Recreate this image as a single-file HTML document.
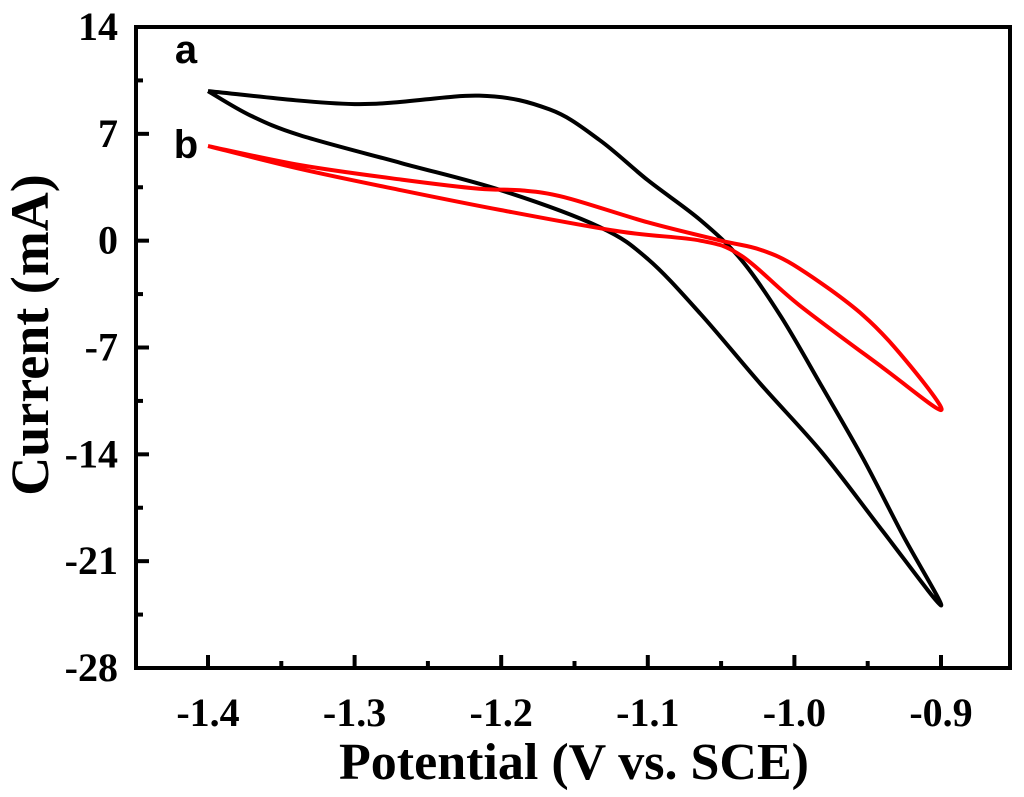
<!DOCTYPE html>
<html><head><meta charset="utf-8"><style>
body{margin:0;background:#fff;}
svg{display:block;}
text{font-family:"Liberation Serif",serif;font-weight:bold;fill:#000;}
</style></head><body>
<svg id="chart" width="1024" height="797">
<rect x="0" y="0" width="1024" height="797" fill="#fff"/>
<g id="marks"></g>
<rect x="136" y="27" width="874" height="641" fill="none" stroke="#000" stroke-width="4"/>
<g id="axes"></g>
<text x="48" y="335" font-size="54" text-anchor="middle" transform="rotate(-90 48 335)">Current (mA)</text>
<text x="574" y="779" font-size="52" text-anchor="middle">Potential (V vs. SCE)</text>
<text x="186" y="63" font-size="40" text-anchor="middle" style="font-family:'Liberation Sans',sans-serif">a</text>
<text x="186" y="158" font-size="40" text-anchor="middle" style="font-family:'Liberation Sans',sans-serif">b</text>
</svg>
<script>
const xTicks=[-1.4,-1.3,-1.2,-1.1,-1.0,-0.9];
const xTickLabels=["-1.4","-1.3","-1.2","-1.1","-1.0","-0.9"];
const yTicks=[14,7,0,-7,-14,-21,-28];
const yTickLabels=["14","7","0","-7","-14","-21","-28"];
const aPotential=[-1.4,-1.3,-1.215,-1.167,-1.133,-1.1,-1.064,-1.036,-1.009,-0.981,-0.953,-0.926,-0.9,-0.94,-0.981,-1.023,-1.064,-1.1,-1.133,-1.2,-1.268,-1.337,-1.371,-1.4];
const aCurrent=[9.8,8.95,9.5,8.6,6.6,3.96,1.34,-1.28,-5.0,-9.6,-14.3,-19.3,-23.9,-19,-13.9,-9.4,-4.8,-1.2,0.9,3.3,5.08,6.9,8.2,9.8];
const bPotential=[-1.4,-1.337,-1.268,-1.215,-1.187,-1.157,-1.1,-1.05,-1.023,-0.997,-0.953,-0.921,-0.9,-0.94,-0.997,-1.036,-1.064,-1.119,-1.2,-1.268,-1.337,-1.4];
const bCurrent=[6.2,4.95,4.0,3.4,3.3,2.85,1.2,0.0,-0.6,-1.8,-4.9,-8.2,-11.1,-8.3,-4.2,-1.0,0.0,0.6,2.0,3.3,4.7,6.2];
const X=v=>208+(v+1.4)/0.5*733;
const Y=v=>27+(14-v)/42*641;
const NS="http://www.w3.org/2000/svg";
function mk(t,a){const e=document.createElementNS(NS,t);for(const k in a)e.setAttribute(k,a[k]);return e;}
const axes=document.getElementById('axes'),marks=document.getElementById('marks');
xTicks.forEach((v,i)=>{
 const l=mk('line',{x1:X(v),x2:X(v),y1:668,y2:655,stroke:'#000','stroke-width':4});
 
 
 axes.appendChild(l);
 if(i<xTicks.length-1){const m=mk('line',{x1:X(v+0.05),x2:X(v+0.05),y1:668,y2:661,stroke:'#000','stroke-width':4});
 
 
 axes.appendChild(m);}
 const t=mk('text',{x:X(v),y:726,'font-size':40,'text-anchor':'middle'});t.textContent=xTickLabels[i];
 
 
 axes.appendChild(t);
});
yTicks.forEach((v,i)=>{
 const l=mk('line',{x1:136,x2:149,y1:Y(v),y2:Y(v),stroke:'#000','stroke-width':4});
 
 
 axes.appendChild(l);
 if(i<yTicks.length-1){const m=mk('line',{x1:136,x2:143,y1:Y(v-3.5),y2:Y(v-3.5),stroke:'#000','stroke-width':4});
 
 
 axes.appendChild(m);}
 const t=mk('text',{x:118,y:Y(v)+13,'font-size':40,'text-anchor':'end'});t.textContent=yTickLabels[i];
 
 
 axes.appendChild(t);
});
function path(px,py){
 const p=px.map((v,i)=>[X(v),Y(py[i])]);
 let d=`M${p[0][0]},${p[0][1]}`;
 for(let i=0;i<p.length-1;i++){
  const p0=p[Math.max(0,i-1)],p1=p[i],p2=p[i+1],p3=p[Math.min(p.length-1,i+2)];
  const c1=[p1[0]+(p2[0]-p0[0])/6,p1[1]+(p2[1]-p0[1])/6];
  const c2=[p2[0]-(p3[0]-p1[0])/6,p2[1]-(p3[1]-p1[1])/6];
  d+=` C${c1[0]},${c1[1]} ${c2[0]},${c2[1]} ${p2[0]},${p2[1]}`;
 }
 return d;
}
const pa=mk('path',{d:path(aPotential,aCurrent),fill:'none',stroke:'#000','stroke-width':4,'stroke-linejoin':'round'});


marks.appendChild(pa);
const pb=mk('path',{d:path(bPotential,bCurrent),fill:'none',stroke:'#ff0000','stroke-width':4,'stroke-linejoin':'round'});


marks.appendChild(pb);
</script>
</body></html>
